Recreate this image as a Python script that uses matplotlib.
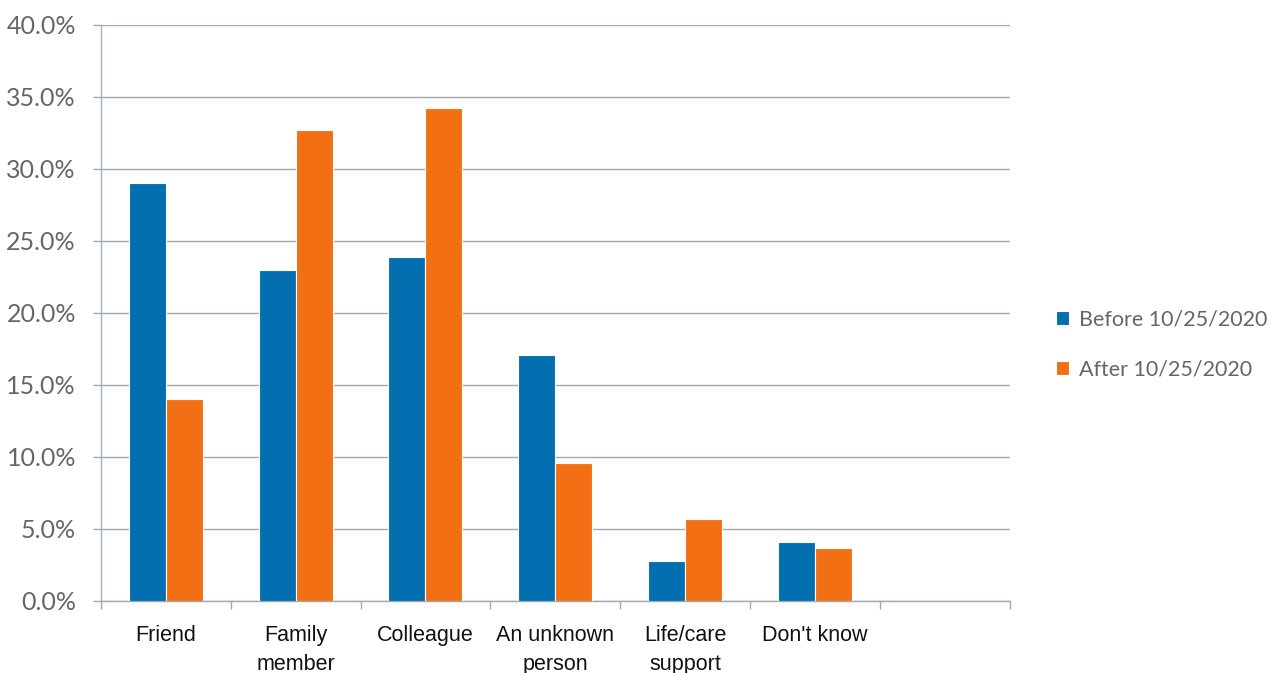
import numpy as np
import matplotlib
matplotlib.use("Agg")
import matplotlib.pyplot as plt

# data
categories = ["Friend", "Family\nmember", "Colleague", "An unknown\nperson",
              "Life/care\nsupport", "Don't know", ""]
before = [29.0, 23.0, 23.9, 17.1, 2.8, 4.1, np.nan]
after = [14.0, 32.7, 34.2, 9.6, 5.7, 3.7, np.nan]
series_names = ["Before 10/25/2020", "After 10/25/2020"]
y_ticks = [0, 5, 10, 15, 20, 25, 30, 35, 40]

blue = "#046fb0"
orange = "#f27013"
grid_col = "#a3a8b0"

fig = plt.figure(figsize=(12.78, 6.73), dpi=100)
ax = fig.add_axes([0.079, 0.107, 0.711, 0.856])

x = np.arange(len(categories))
w = 0.285
b1 = ax.bar(x - w / 2, before, w, color=blue, edgecolor="white", linewidth=0.8,
            label=series_names[0], zorder=3)
b2 = ax.bar(x + w / 2, after, w, color=orange, edgecolor="white", linewidth=0.8,
            label=series_names[1], zorder=3)

ax.set_xlim(-0.5, len(categories) - 0.5)
ax.set_ylim(0, 40)
ax.set_yticks(y_ticks)
ax.set_yticklabels([f"{v:.1f}%" for v in y_ticks], family="Lato", fontsize=18,
                   color="#666666")
ax.yaxis.grid(True, color=grid_col, linewidth=1.0, zorder=0)

# category labels centred, ticks on category boundaries
ax.set_xticks(x)
ax.set_xticklabels(categories, family="Liberation Sans", fontsize=15.5,
                   color="#111111", linespacing=1.5, va="top")
ax.tick_params(axis="x", length=0, pad=17)
ax.set_xticks(np.arange(len(categories) + 1) - 0.5, minor=True)
ax.tick_params(axis="x", which="minor", length=6, color=grid_col, width=1.0)
ax.tick_params(axis="y", length=6, color=grid_col, width=1.0, pad=12)

for s in ["top", "right"]:
    ax.spines[s].set_visible(False)
ax.spines["left"].set_color("#9fb0c8")
ax.spines["bottom"].set_color(grid_col)
ax.spines["left"].set_linewidth(1.0)
ax.spines["bottom"].set_linewidth(1.0)

leg = fig.legend(handles=[b1, b2], loc="center left", bbox_to_anchor=(0.818, 0.488),
                 frameon=False, prop={"family": "Lato", "size": 15.5},
                 handlelength=0.6, handleheight=0.6, handletextpad=0.45,
                 labelspacing=1.4, labelcolor="#666666", borderpad=0.0)

fig.savefig("out.png", dpi=100, facecolor="white")
